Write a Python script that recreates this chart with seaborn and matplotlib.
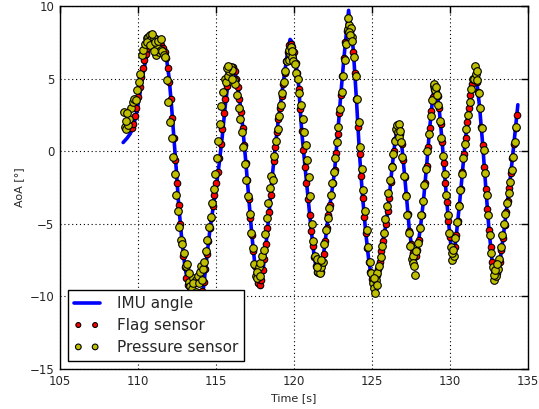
import numpy as np
import pandas as pd
import matplotlib
matplotlib.use("Agg")
import matplotlib.pyplot as plt
import seaborn as sns

# IMU angle (continuous trace)
imu_t = [109.05, 109.3, 109.5, 109.7, 109.9, 110.1, 110.3, 110.5, 110.7, 110.9,
         111.1, 111.3, 111.5, 111.7, 111.85, 112.0, 112.15, 112.3, 112.45, 112.6,
         112.8, 113.0, 113.2, 113.4, 113.7, 114.0, 114.2, 114.4, 114.6, 114.8,
         115.0, 115.2, 115.4, 115.6, 115.8, 116.0, 116.1, 116.3, 116.5, 116.7,
         116.9, 117.1, 117.3, 117.5, 117.7, 117.85, 118.0, 118.2, 118.4, 118.6,
         118.8, 119.0, 119.2, 119.4, 119.6, 119.75, 119.9, 120.1, 120.3, 120.5,
         120.7, 120.9, 121.1, 121.3, 121.5, 121.65, 121.8, 122.0, 122.2, 122.4,
         122.6, 122.8, 123.0, 123.2, 123.4, 123.5, 123.6, 123.8, 124.0, 124.2,
         124.4, 124.6, 124.8, 125.0, 125.15, 125.3, 125.5, 125.7, 125.9, 126.1,
         126.3, 126.5, 126.7, 126.85, 127.0, 127.2, 127.4, 127.6, 127.75, 127.9,
         128.1, 128.3, 128.5, 128.7, 128.9, 129.0, 129.15, 129.3, 129.5, 129.7,
         129.9, 130.05, 130.2, 130.35, 130.5, 130.7, 130.9, 131.1, 131.3, 131.5,
         131.6, 131.75, 131.9, 132.1, 132.3, 132.5, 132.7, 132.85, 133.0, 133.2,
         133.4, 133.6, 133.8, 134.0, 134.2, 134.35]
imu_v = [0.6, 0.9, 1.2, 1.7, 2.6, 3.8, 5.2, 6.3, 7.0, 7.4,
         7.6, 7.5, 7.3, 6.9, 6.2, 5.0, 3.1, 1.0, -1.2, -3.6,
         -6.0, -7.9, -9.1, -10.0, -10.6, -10.1, -9.4, -7.4, -5.5, -4.0,
         -2.6, -0.9, 1.0, 3.2, 4.9, 5.8, 5.9, 5.0, 3.7, 1.8,
         -0.6, -3.2, -5.8, -7.9, -9.2, -9.1, -8.3, -6.5, -4.3, -1.8,
         0.3, 2.2, 3.8, 5.4, 6.9, 7.7, 7.5, 6.3, 4.5, 1.3,
         -1.0, -3.2, -5.4, -7.3, -8.4, -8.5, -7.9, -6.2, -4.4, -3.0,
         -1.4, 1.2, 3.9, 6.4, 8.6, 9.7, 8.8, 7.0, 3.6, -0.2,
         -3.2, -5.6, -7.6, -8.9, -9.0, -8.5, -7.6, -6.2, -5.0, -3.2,
         -1.0, 0.9, 1.6, 1.0, -0.6, -3.0, -5.5, -7.0, -7.3, -6.8,
         -5.3, -3.4, -1.0, 1.6, 3.8, 4.4, 4.2, 3.0, 0.6, -2.2,
         -4.8, -6.4, -6.9, -6.3, -4.8, -2.6, -0.2, 2.0, 3.9, 5.0,
         5.3, 4.5, 3.0, 0.4, -2.6, -5.4, -7.6, -8.4, -8.4, -7.6,
         -6.0, -4.2, -2.5, -0.5, 1.6, 3.2]

# Flag sensor samples
flag_t = [109.6, 109.7, 109.8, 109.9, 110.0, 110.1, 110.2, 110.3, 110.4, 110.5,
          110.6, 110.7, 110.8, 110.9, 111.0, 111.1, 111.2, 111.3, 111.4, 111.5,
          111.6, 111.7, 111.8, 111.9, 112.0, 112.1, 112.2, 112.3, 112.4, 112.5,
          112.6, 112.7, 112.8, 112.9, 113.0, 113.1, 113.2, 113.3, 113.4, 113.5,
          113.6, 113.7, 113.8, 113.9, 114.0, 114.1, 114.2, 114.3, 114.4, 114.5,
          114.6, 114.7, 114.8, 114.9, 115.0, 115.1, 115.2, 115.3, 115.4, 115.5,
          115.6, 115.7, 115.8, 115.9, 116.0, 116.1, 116.2, 116.3, 116.4, 116.5,
          116.6, 116.7, 116.8, 116.9, 117.0, 117.1, 117.2, 117.3, 117.4, 117.5,
          117.6, 117.7, 117.8, 117.9, 118.0, 118.1, 118.2, 118.3, 118.4, 118.5,
          118.6, 118.7, 118.8, 118.9, 119.0, 119.1, 119.2, 119.3, 119.4, 119.5,
          119.6, 119.7, 119.8, 119.9, 120.0, 120.1, 120.2, 120.3, 120.4, 120.5,
          120.6, 120.7, 120.8, 120.9, 121.0, 121.1, 121.2, 121.3, 121.4, 121.5,
          121.6, 121.7, 121.8, 121.9, 122.0, 122.1, 122.2, 122.3, 122.4, 122.5,
          122.6, 122.7, 122.8, 122.9, 123.0, 123.1, 123.2, 123.3, 123.4, 123.5,
          123.6, 123.7, 123.8, 123.9, 124.0, 124.1, 124.2, 124.3, 124.4, 124.5,
          124.6, 124.7, 124.8, 124.9, 125.0, 125.1, 125.2, 125.3, 125.4, 125.5,
          125.6, 125.7, 125.8, 125.9, 126.0, 126.1, 126.2, 126.3, 126.4, 126.5,
          126.6, 126.7, 126.8, 126.9, 127.0, 127.1, 127.2, 127.3, 127.4, 127.5,
          127.6, 127.7, 127.8, 127.9, 128.0, 128.1, 128.2, 128.3, 128.4, 128.5,
          128.6, 128.7, 128.8, 128.9, 129.0, 129.1, 129.2, 129.3, 129.4, 129.5,
          129.6, 129.7, 129.8, 129.9, 130.0, 130.1, 130.2, 130.3, 130.4, 130.5,
          130.6, 130.7, 130.8, 130.9, 131.0, 131.1, 131.2, 131.3, 131.4, 131.5,
          131.6, 131.7, 131.8, 131.9, 132.0, 132.1, 132.2, 132.3, 132.4, 132.5,
          132.6, 132.7, 132.8, 132.9, 133.0, 133.1, 133.2, 133.3, 133.4, 133.5,
          133.6, 133.7, 133.8, 133.9, 134.0, 134.1, 134.2, 134.3]
flag_v = [1.6, 1.9, 2.4, 3.0, 3.7, 4.4, 5.1, 5.7, 6.3, 6.7,
          7.1, 7.3, 7.5, 7.6, 7.7, 7.8, 7.7, 7.6, 7.4, 7.3,
          7.1, 6.8, 6.4, 5.7, 4.8, 3.6, 2.3, 0.9, -0.6, -2.2,
          -3.7, -5.0, -6.2, -7.2, -8.0, -8.7, -9.2, -9.7, -10.1, -10.4,
          -10.6, -10.6, -10.5, -10.3, -10.0, -9.6, -9.0, -8.1, -7.1, -6.2,
          -5.3, -4.6, -3.8, -3.0, -2.2, -1.4, -0.5, 0.5, 1.5, 2.6,
          3.6, 4.5, 5.1, 5.6, 5.8, 5.8, 5.5, 5.0, 4.4, 3.6,
          2.7, 1.6, 0.4, -0.8, -2.0, -3.3, -4.6, -5.8, -6.9, -7.9,
          -8.7, -9.1, -9.2, -8.9, -8.2, -7.4, -6.4, -5.3, -4.2, -3.0,
          -1.8, -0.7, 0.3, 1.3, 2.2, 3.0, 3.8, 4.6, 5.4, 6.2,
          6.8, 7.3, 7.4, 7.2, 6.8, 6.1, 5.4, 4.3, 2.9, 1.4,
          0.1, -1.1, -2.2, -3.3, -4.4, -5.5, -6.5, -7.3, -7.9, -8.3,
          -8.4, -8.3, -7.8, -7.1, -6.2, -5.3, -4.4, -3.7, -3.0, -2.2,
          -1.3, -0.1, 1.2, 2.6, 3.9, 5.2, 6.4, 7.5, 8.3, 8.6,
          8.2, 7.6, 6.8, 5.4, 3.6, 1.7, -0.2, -1.7, -3.2, -4.5,
          -5.6, -6.7, -7.6, -8.3, -8.8, -9.0, -8.9, -8.5, -8.1, -7.6,
          -6.9, -6.2, -5.6, -5.0, -4.1, -3.2, -2.1, -1.0, 0.0, 0.8,
          1.3, 1.5, 1.2, 0.5, -0.6, -1.8, -3.0, -4.3, -5.5, -6.4,
          -7.0, -7.3, -7.2, -6.8, -6.1, -5.3, -4.4, -3.4, -2.2, -1.0,
          0.3, 1.6, 2.8, 3.7, 4.3, 4.3, 3.8, 3.0, 1.9, 0.6,
          -0.8, -2.2, -3.5, -4.8, -5.9, -6.6, -6.9, -6.6, -5.8, -4.8,
          -3.7, -2.6, -1.4, -0.2, 0.9, 2.0, 3.0, 3.9, 4.6, 5.0,
          5.2, 4.8, 4.1, 3.0, 1.7, 0.4, -1.1, -2.6, -4.0, -5.4,
          -6.6, -7.6, -8.2, -8.4, -8.4, -8.1, -7.6, -6.8, -6.0, -5.1,
          -4.2, -3.4, -2.5, -1.5, -0.5, 0.5, 1.6, 2.5]

# Pressure sensor samples (interleaved with the flag samples, plus the
# extra clusters seen around the peaks and troughs)
press_t = [109.15, 109.25, 109.35, 109.45, 109.55, 109.65, 109.75, 109.85, 109.95, 110.05,
           110.15, 110.25, 110.35, 110.45, 110.55, 110.65, 110.75, 110.85, 110.95, 111.05,
           111.15, 111.25, 111.35, 111.45, 111.55, 111.65, 111.75, 111.85, 111.95, 112.05,
           112.15, 112.25, 112.35, 112.45, 112.55, 112.65, 112.75, 112.85, 112.95, 113.05,
           113.15, 113.25, 113.35, 113.45, 113.55, 113.65, 113.75, 113.85, 113.95, 114.05,
           114.15, 114.25, 114.35, 114.45, 114.55, 114.65, 114.75, 114.85, 114.95, 115.05,
           115.15, 115.25, 115.35, 115.45, 115.55, 115.65, 115.75, 115.85, 115.95, 116.05,
           116.15, 116.25, 116.35, 116.45, 116.55, 116.65, 116.75, 116.85, 116.95, 117.05,
           117.15, 117.25, 117.35, 117.45, 117.55, 117.65, 117.75, 117.85, 117.95, 118.05,
           118.15, 118.25, 118.35, 118.45, 118.55, 118.65, 118.75, 118.85, 118.95, 119.05,
           119.15, 119.25, 119.35, 119.45, 119.55, 119.65, 119.75, 119.85, 119.95, 120.05,
           120.15, 120.25, 120.35, 120.45, 120.55, 120.65, 120.75, 120.85, 120.95, 121.05,
           121.15, 121.25, 121.35, 121.45, 121.55, 121.65, 121.75, 121.85, 121.95, 122.05,
           122.15, 122.25, 122.35, 122.45, 122.55, 122.65, 122.75, 122.85, 122.95, 123.05,
           123.15, 123.25, 123.35, 123.45, 123.55, 123.65, 123.75, 123.85, 123.95, 124.05,
           124.15, 124.25, 124.35, 124.45, 124.55, 124.65, 124.75, 124.85, 124.95, 125.05,
           125.15, 125.25, 125.35, 125.45, 125.55, 125.65, 125.75, 125.85, 125.95, 126.05,
           126.15, 126.25, 126.35, 126.45, 126.55, 126.65, 126.75, 126.85, 126.95, 127.05,
           127.15, 127.25, 127.35, 127.45, 127.55, 127.65, 127.75, 127.85, 127.95, 128.05,
           128.15, 128.25, 128.35, 128.45, 128.55, 128.65, 128.75, 128.85, 128.95, 129.05,
           129.15, 129.25, 129.35, 129.45, 129.55, 129.65, 129.75, 129.85, 129.95, 130.05,
           130.15, 130.25, 130.35, 130.45, 130.55, 130.65, 130.75, 130.85, 130.95, 131.05,
           131.15, 131.25, 131.35, 131.45, 131.55, 131.65, 131.75, 131.85, 131.95, 132.05,
           132.15, 132.25, 132.35, 132.45, 132.55, 132.65, 132.75, 132.85, 132.95, 133.05,
           133.15, 133.25, 133.35, 133.45, 133.55, 133.65, 133.75, 133.85, 133.95, 134.05,
           134.15, 134.25,
           109.12, 109.2, 109.3, 110.6, 110.8, 110.9, 111.0, 111.1, 111.3, 111.5,
           113.3, 113.5, 113.7, 113.9, 114.1, 115.7, 115.8, 116.0, 117.6, 117.8,
           119.7, 119.8, 119.9, 121.5, 121.7, 123.45, 123.5, 123.6, 123.7, 125.1,
           125.2, 125.3, 126.6, 126.7, 126.8, 127.6, 127.7, 129.0, 129.1, 130.1,
           130.2, 131.6, 131.7, 132.8, 132.9, 133.0]
press_v = [1.7, 1.5, 1.8, 2.2, 3.0, 3.4, 3.6, 3.5, 4.2, 4.8,
           5.3, 6.6, 7.0, 7.4, 7.8, 7.9, 8.0, 7.7, 7.4, 7.8,
           6.6, 7.2, 6.8, 7.0, 6.9, 6.6, 6.5, 4.9, 3.4, 2.0,
           0.9, -0.4, -1.6, -3.0, -4.1, -5.2, -6.1, -6.4, -7.0, -7.9,
           -7.8, -9.0, -9.3, -9.5, -8.7, -9.0, -8.9, -8.6, -8.3, -7.9,
           -8.1, -7.6, -6.9, -6.1, -5.2, -4.5, -3.6, -2.6, -1.6, -0.5,
           0.7, 1.9, 3.1, 4.1, 5.0, 4.8, 5.2, 5.5, 5.8, 5.6,
           4.9, 4.6, 3.9, 3.0, 2.2, 1.3, 0.3, -0.9, -2.0, -3.1,
           -4.3, -5.6, -6.7, -7.8, -8.6, -8.7, -8.0, -7.7, -7.2, -6.8,
           -5.7, -4.6, -3.6, -2.5, -1.7, -2.0, -0.3, 0.7, 1.5, 2.4,
           3.2, 4.0, 4.8, 5.5, 6.2, 6.3, 6.7, 6.5, 6.2, 6.0,
           5.4, 5.0, 4.0, 3.2, 2.2, 1.3, 0.4, -0.6, -1.8, -3.1,
           -5.0, -6.2, -7.2, -7.4, -8.3, -8.4, -8.0, -7.6, -6.4, -5.4,
           -4.6, -3.9, -3.0, -2.2, -1.4, -0.5, 0.6, 1.7, 2.9, 4.1,
           5.2, 6.3, 7.4, 8.4, 8.7, 8.5, 7.9, 6.5, 5.2, 3.6,
           2.0, 0.3, -1.2, -2.7, -4.1, -5.4, -6.6, -7.6, -8.4, -9.1,
           -9.4, -8.9, -8.4, -7.9, -7.3, -6.5, -5.6, -4.7, -3.8, -2.9,
           -2.0, -1.1, -0.2, 0.7, 1.5, 1.3, 1.0, 0.6, -0.4, -1.7,
           -3.1, -4.4, -5.6, -6.5, -7.4, -7.2, -8.5, -6.9, -6.3, -5.3,
           -4.4, -3.4, -2.3, -1.2, 0.0, 1.2, 2.4, 3.5, 4.5, 4.2,
           3.9, 3.2, 2.1, 0.9, -0.3, -1.6, -3.0, -4.4, -5.6, -6.6,
           -7.5, -7.2, -6.0, -4.9, -3.8, -2.7, -1.6, -0.5, 0.5, 1.5,
           2.5, 3.4, 4.3, 5.0, 5.0, 5.3, 4.9, 4.0, 3.0, 1.6,
           0.1, -1.5, -3.0, -4.4, -5.8, -7.0, -8.0, -8.9, -8.6, -8.1,
           -7.4, -6.6, -5.8, -5.0, -4.3, -3.6, -2.9, -2.1, -1.3, -0.4,
           0.6, 1.7,
           2.7, 2.1, 2.6, 7.5, 7.3, 8.1, 6.9, 7.5, 7.6, 7.7,
           -8.4, -9.1, -9.7, -9.1, -8.9, 5.7, 5.9, 5.0, -8.3, -8.6,
           7.0, 7.2, 6.9, -8.0, -7.5, 9.2, 8.2, 8.0, 7.6, -8.7,
           -9.8, -9.2, 1.8, 1.9, 1.4, -7.7, -7.9, 4.6, 4.4, -7.0,
           -6.8, 5.9, 5.5, -8.5, -8.2, -7.8]

imu = pd.DataFrame({"t": imu_t, "v": imu_v})
flag = pd.DataFrame({"t": flag_t, "v": flag_v})
press = pd.DataFrame({"t": press_t, "v": press_v})

sns.set_style("white")
plt.rcParams["font.family"] = ["DejaVu Sans"]
plt.rcParams["xtick.direction"] = "in"
plt.rcParams["ytick.direction"] = "in"
plt.rcParams["xtick.top"] = True
plt.rcParams["ytick.right"] = True

fig = plt.figure(figsize=(5.39, 4.09), dpi=100)
ax = fig.add_axes([0.1113, 0.0978, 0.8683, 0.8875])

sns.lineplot(data=imu, x="t", y="v", color="b", lw=2.6, estimator=None,
             sort=False, label="IMU angle", ax=ax, zorder=2)
sns.scatterplot(data=flag, x="t", y="v", color="r", edgecolor="k", s=22,
                linewidth=0.8, label="Flag sensor", ax=ax, zorder=3)
sns.scatterplot(data=press, x="t", y="v", color=(0.75, 0.75, 0.0), edgecolor="k",
                s=30, linewidth=0.8, label="Pressure sensor", ax=ax, zorder=4)

ax.set_xlim(105, 135)
ax.set_ylim(-15, 10)
ax.set_xticks([105, 110, 115, 120, 125, 130, 135])
ax.set_yticks([-15, -10, -5, 0, 5, 10])
ax.tick_params(labelsize=8.5, length=5, width=1, color="k", pad=4)
ax.grid(True, linestyle=(0, (1, 2.5)), color="k", linewidth=0.8)
for s in ax.spines.values():
    s.set_color("k")
    s.set_linewidth(1)

ax.set_xlabel("Time [s]", fontsize=8)
ax.set_ylabel("AoA [°]", fontsize=8)

leg = ax.legend(loc="lower left", fontsize=11, frameon=True, fancybox=False,
                framealpha=1, edgecolor="k", scatterpoints=2, scatteryoffsets=[0.5],
                markerscale=0.75, handlelength=1.7, handletextpad=1.1,
                borderaxespad=0.5, labelspacing=0.45, borderpad=0.4)
leg.get_frame().set_linewidth(1)
leg.set_zorder(10)

fig.savefig("out.png", dpi=100, facecolor="white")
